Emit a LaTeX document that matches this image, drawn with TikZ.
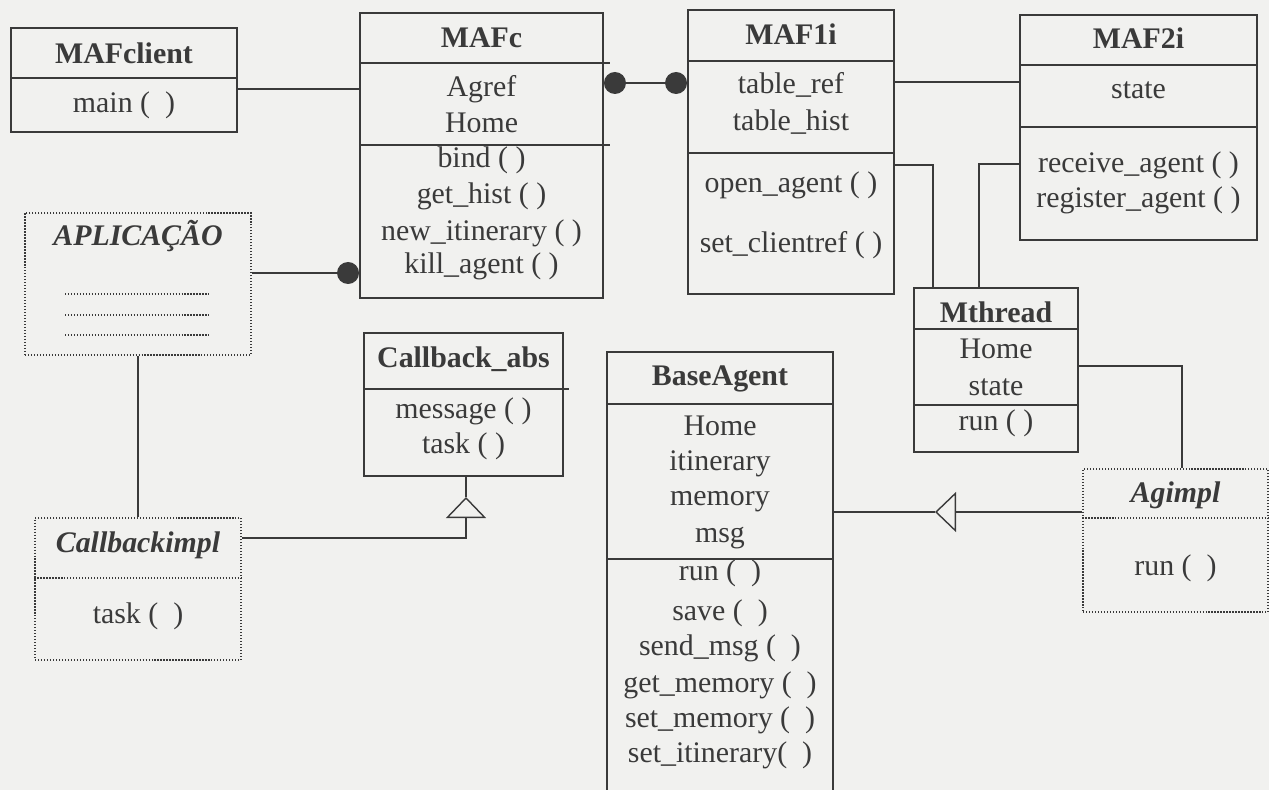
\documentclass[tikz,border=0pt]{standalone}
\usepackage{fontspec}
\setmainfont{Liberation Serif}
\usetikzlibrary{arrows.meta,calc}
\definecolor{ink}{RGB}{58,58,58}
\definecolor{paper}{RGB}{241,241,239}
\tikzset{
  cls/.style={draw=ink, line width=0.7pt, inner sep=0pt},
  ghost/.style={draw=ink, densely dotted, line width=0.7pt, inner sep=0pt},
  rule/.style={draw=ink, line width=0.7pt},
  dotrule/.style={draw=ink, densely dotted, line width=0.7pt},
  title/.style={font=\fontsize{17}{20}\selectfont\bfseries, text=ink, inner sep=0pt,
                text height=12.4pt, text depth=0pt},
  ititle/.style={title, font=\fontsize{17}{20}\selectfont\bfseries\itshape},
  member/.style={font=\fontsize{17}{20}\selectfont, text=ink, inner sep=0pt,
                 text height=12.4pt, text depth=0pt},
  link/.style={draw=ink, line width=0.8pt},
  gen/.style={link, -{Triangle[open, length=0.42cm, width=0.8cm]}},
  joint/.style={circle, fill=ink, inner sep=0pt, minimum size=0.44cm},
}

\begin{document}
\begin{tikzpicture}
    \useasboundingbox (0,0) rectangle (25.38,-15.8);
    \clip (0,0) rectangle (25.38,-15.8);
    \fill[paper] (0,0) rectangle (25.38,-15.8);
    % classes
    \node[cls, minimum width=4.52cm, minimum height=2.08cm] (mafclient) at (2.48,-1.60) {};
    \node[title] (mafclientT) at (2.48,-1.06) {MAFclient};
    \node[member] (mafclientM) at (2.48,-2.04) {main (\ \ )};
    \node[cls, minimum width=4.86cm, minimum height=5.70cm] (mafc) at (9.63,-3.11) {};
    \node[title] (mafcT) at (9.63,-0.74) {MAFc};
    \foreach \t/\y [count=\i] in {Agref/-1.72, Home/-2.44, bind ( )/-3.14, get\_hist ( )/-3.86,
                                 new\_itinerary ( )/-4.60, kill\_agent ( )/-5.26}
      \node[member] (mafcM\i) at (9.63,\y) {\t};
    \node[cls, minimum width=4.12cm, minimum height=5.68cm] (maf1i) at (15.82,-3.04) {};
    \node[title] (maf1iT) at (15.82,-0.68) {MAF1i};
    \foreach \t/\y [count=\i] in {table\_ref/-1.66, table\_hist/-2.40, open\_agent ( )/-3.64,
                                 set\_clientref ( )/-4.84}
      \node[member] (maf1iM\i) at (15.82,\y) {\t};
    \node[cls, minimum width=4.74cm, minimum height=4.50cm] (maf2i) at (22.77,-2.55) {};
    \node[title] (maf2iT) at (22.77,-0.76) {MAF2i};
    \foreach \t/\y [count=\i] in {state/-1.76, receive\_agent ( )/-3.24, register\_agent ( )/-3.94}
      \node[member] (maf2iM\i) at (22.77,\y) {\t};
    \node[ghost, minimum width=4.52cm, minimum height=2.84cm] (aplic) at (2.76,-5.68) {};
    \node[ititle] (aplicT) at (2.76,-4.70) {APLICAÇÃO};
    \foreach \y in {-5.88,-6.30,-6.70} \draw[dotrule] (1.30,\y) -- (4.18,\y);
    \node[ghost, minimum width=4.12cm, minimum height=2.84cm] (cbimpl) at (2.76,-11.78) {};
    \node[ititle] (cbimplT) at (2.76,-10.84) {Callbackimpl};
    \node[member] (cbimplM) at (2.76,-12.26) {task (\ \ )};
    \node[cls, minimum width=3.98cm, minimum height=2.86cm] (cbabs) at (9.27,-8.09) {};
    \node[title] (cbabsT) at (9.27,-7.14) {Callback\_abs};
    \node[member] (cbabsM1) at (9.27,-8.16) {message ( )};
    \node[member] (cbabsM2) at (9.27,-8.86) {task ( )};
    \node[cls, minimum width=4.52cm, minimum height=8.96cm] (baseagent) at (14.40,-11.52) {};
    \node[title] (baseagentT) at (14.40,-7.50) {BaseAgent};
    \foreach \t/\y [count=\i] in {Home/-8.50, itinerary/-9.20, memory/-9.90, msg/-10.64,
                                 run (\ \ )/-11.40, save (\ \ )/-12.20, send\_msg (\ \ )/-12.90,
                                 get\_memory (\ \ )/-13.64, set\_memory (\ \ )/-14.34,
                                 set\_itinerary(\ \ )/-15.04}
      \node[member] (baseagentM\i) at (14.40,\y) {\t};
    \node[cls, minimum width=3.28cm, minimum height=3.28cm] (mthread) at (19.92,-7.40) {};
    \node[title] (mthreadT) at (19.92,-6.24) {Mthread};
    \foreach \t/\y [count=\i] in {Home/-6.96, state/-7.70, run ( )/-8.40}
      \node[member] (mthreadM\i) at (19.92,\y) {\t};
    \node[ghost, minimum width=3.70cm, minimum height=2.86cm] (agimpl) at (23.51,-10.81) {};
    \node[ititle] (agimplT) at (23.51,-9.84) {Agimpl};
    \node[member] (agimplM) at (23.51,-11.30) {run (\ \ )};
    % compartment rules
    \foreach \n/\y in {mafclient/-1.56, maf1i/-1.22, maf1i/-3.06, maf2i/-1.30, maf2i/-2.54,
                       baseagent/-8.08, baseagent/-11.18, mthread/-6.58, mthread/-8.10}
      \draw[rule] (\n.west |- 0,\y) -- (\n.east |- 0,\y);
    \foreach \y in {-1.26,-2.90} \draw[rule] (mafc.west |- 0,\y) -- ([xshift=0.12cm]mafc.east |- 0,\y);
    \draw[rule] (cbabs.west |- 0,-7.78) -- ([xshift=0.10cm]cbabs.east |- 0,-7.78);
    \foreach \n/\y in {cbimpl/-11.56, agimpl/-10.36}
      \draw[dotrule] (\n.west |- 0,\y) -- (\n.east |- 0,\y);
    % associations
    \draw[link] (mafclient.east |- 0,-1.78) -- (mafc.west |- 0,-1.78);
    \node[joint, anchor=east] (jA) at (mafc.west |- 0,-5.46) {};
    \draw[link] (aplic.east |- jA) -- (jA);
    \node[joint, anchor=west] (jB) at (mafc.east |- 0,-1.66) {};
    \node[joint, anchor=east] (jC) at (maf1i.west |- 0,-1.66) {};
    \draw[link] (jB) -- (jC);
    \draw[link] (maf1i.east |- 0,-1.64) -- (maf2i.west |- 0,-1.64);
    \draw[link] (maf1i.east |- 0,-3.30) -| ([xshift=-1.26cm]mthread.north);
    \draw[link] (maf2i.west |- 0,-3.28) -| ([xshift=-0.34cm]mthread.north);
    \draw[link] (mthread.east |- 0,-7.32) -| ([xshift=0.13cm]agimpl.north);
    \draw[link] (aplic.south) -- (cbimpl.north);
    % generalisations
    \coordinate (genA) at (18.70,-10.24);
    \draw[gen] (agimpl.west |- genA) -- (genA);
    \draw[link] (genA) -- (baseagent.east |- genA);
    \coordinate (genB) at (9.32,-9.94);
    \draw[gen] (cbimpl.east |- 0,-10.76) -| (genB);
    \draw[link] (genB) -- (genB |- cbabs.south);
\end{tikzpicture}
\end{document}
